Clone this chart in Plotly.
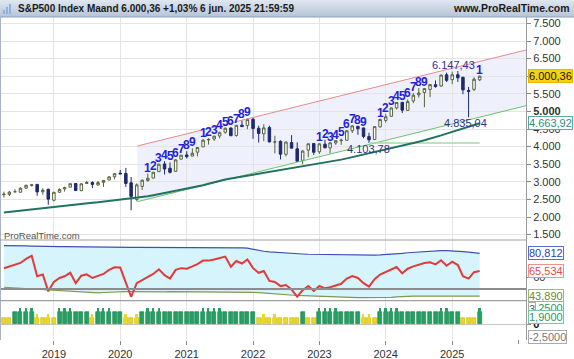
import plotly.graph_objects as go
import pandas as pd

W, H = 574, 359

# ---------------- data ----------------
months = pd.date_range('2018-04-01', '2025-06-01', freq='MS')

opens = [2633, 2643, 2718, 2704, 2821, 2897, 2926, 2717, 2790,
         2476, 2702, 2798, 2848, 2952, 2751, 2952, 2980, 2910, 2984, 3050, 3144,
         3245, 3236, 2974, 2499, 2869, 3038, 3106, 3289, 3507, 3385, 3296, 3645,
         3764, 3731, 3842, 3992, 4191, 4216, 4300, 4407, 4528, 4317, 4610, 4602,
         4778, 4520, 4364, 4540, 4131, 4149, 3781, 4113, 3937, 3610, 3901, 4087,
         3853, 4070, 3963, 4102, 4166, 4181, 4450, 4578, 4530, 4284, 4202, 4559,
         4745, 4861, 5098, 5258, 5029, 5298, 5471, 5538, 5624, 5758, 5723, 6040,
         5903, 6041, 5969, 5597, 5625, 5897]
highs = [2718, 2742, 2791, 2848, 2916, 2941, 2940, 2816, 2800,
         2709, 2813, 2860, 2949, 2955, 2964, 3028, 3014, 3022, 3050, 3154, 3248,
         3338, 3394, 3136, 2955, 3068, 3233, 3280, 3515, 3588, 3550, 3646, 3760,
         3870, 3950, 3983, 4218, 4238, 4302, 4429, 4537, 4546, 4608, 4743, 4808,
         4819, 4595, 4637, 4593, 4307, 4177, 4140, 4325, 4120, 3906, 4080, 4101,
         4095, 4195, 4110, 4170, 4231, 4458, 4607, 4585, 4541, 4393, 4587, 4794,
         4932, 5111, 5265, 5264, 5342, 5524, 5670, 5651, 5768, 5878, 6044, 6100,
         6128, 6147.43, 5987, 5696, 5969, 6017]
lows = [2553, 2595, 2698, 2698, 2796, 2864, 2604, 2631, 2347,
        2444, 2681, 2722, 2848, 2751, 2728, 2952, 2822, 2892, 2855, 3050, 3070,
        3214, 2855, 2192, 2447, 2767, 2999, 3101, 3285, 3209, 3234, 3280, 3633,
        3662, 3725, 3723, 3992, 4057, 4164, 4234, 4367, 4306, 4279, 4560, 4495,
        4222, 4115, 4157, 4125, 3810, 3637, 3721, 3955, 3584, 3492, 3699, 3764,
        3794, 3943, 3809, 4048, 4048, 4167, 4385, 4336, 4238, 4103.78, 4197, 4547,
        4683, 4853, 5057, 4954, 5012, 5234, 5391, 5120, 5402, 5674, 5696, 5833,
        5773, 5838, 5489, 4835.04, 5578, 5862]
closes = [2648, 2705, 2718, 2816, 2902, 2914, 2712, 2760, 2507,
          2704, 2784, 2834, 2946, 2752, 2942, 2980, 2926, 2977, 3038, 3141, 3231,
          3226, 2954, 2585, 2912, 3044, 3100, 3271, 3500, 3363, 3270, 3622, 3756,
          3714, 3811, 3973, 4181, 4204, 4298, 4395, 4523, 4308, 4605, 4567, 4766,
          4516, 4374, 4530, 4132, 4132, 3785, 4130, 3955, 3586, 3872, 4080, 3840,
          4077, 3970, 4109, 4169, 4180, 4450, 4589, 4508, 4288, 4194, 4568, 4770,
          4846, 5096, 5254, 5036, 5278, 5460, 5522, 5648, 5762, 5705, 6032, 5882,
          6041, 5955, 5612, 5569, 5912, 6000.36]

moving_avg = [2130, 2148, 2166, 2184, 2202, 2220, 2238, 2257, 2276,
              2292, 2308, 2324, 2340, 2356, 2372, 2388, 2404, 2418,
              2435, 2452, 2469, 2486, 2503, 2520,
              2545, 2570, 2590,
              2620, 2650, 2680, 2710, 2740, 2770, 2800, 2830, 2855,
              2900, 2945, 2990, 3030, 3065,
              3092, 3118, 3144, 3170, 3196, 3222, 3248, 3274, 3300, 3326, 3352, 3378,
              3404, 3430, 3456, 3482, 3508, 3534, 3560,
              3595, 3630, 3665, 3700, 3735, 3770, 3805, 3840, 3875, 3910, 3945, 3980,
              4020, 4060, 4100, 4140, 4180, 4222,
              4270, 4320, 4370, 4420, 4470, 4520, 4570, 4615, 4663.92]

channel_x = ['2020-04-04', '2026-02-11']
channel_upper = [4017, 6744]
channel_lower = [2435, 5162]
support_x = ['2023-10-01', '2025-06-01']
support_level = 4103.78

price_ticks = [1500, 2000, 2500, 3000, 3500, 4000, 4500, 5000, 5500, 6000, 6500, 7000, 7500]
price_tick_text = ['1.500', '2.000', '2.500', '3.000', '3.500', '4.000', '4.500',
                   '<b>5.000</b>', '5.500', '6.000', '6.500', '7.000', '7.500']
year_ticks = ['2019-01-01', '2020-01-01', '2021-01-01', '2022-01-01',
              '2023-01-01', '2024-01-01', '2025-01-01']
year_text = ['2019', '2020', '2021', '2022', '2023', '2024', '2025']

# TD-style count labels (index into months, text)
td_idx = [26, 27, 28, 29, 30, 31, 32, 33, 34,
          36, 37, 38, 39, 40, 41, 42, 43, 44,
          57, 58, 59, 60, 61, 62, 63, 64, 65,
          68, 69, 70, 71, 72, 73, 74, 75, 76,
          86]
td_text = ['1', '2', '3', '4', '5', '6', '7', '8', '9'] * 4 + ['1']

rsi = [67.9, 69.5, 70.5, 72.5, 76.0, 78.7, 61.0, 62.5, 48.0, 56.0,
       59.5, 61.0, 64.0, 55.0, 61.5, 62.7, 59.5, 61.0, 63.0, 66.5,
       68.7, 68.5, 56.0, 43.3, 55.0, 57.5, 60.0, 63.0, 67.0, 62.0,
       59.0, 66.5, 68.0, 67.5, 69.5, 71.5, 74.5, 74.5, 75.5, 77.0,
       78.0, 69.2, 74.2, 72.0, 75.6, 68.0, 64.0, 65.5, 57.0, 56.0,
       52.5, 53.4, 49.5, 43.3, 49.0, 52.6, 48.3, 52.6, 50.6, 51.5,
       53.2, 54.5, 59.0, 61.2, 59.5, 55.0, 52.0, 58.5, 62.5, 64.5,
       67.0, 69.0, 63.5, 67.5, 69.5, 71.0, 72.5, 73.0, 71.3, 74.8,
       70.1, 73.6, 70.7, 61.0, 59.0, 64.5, 65.534]
rsi_upper = [87.4, 87.5, 87.4, 87.3, 87.2, 87.0,
             86.8, 86.7, 86.6, 86.5, 86.5, 86.5, 86.4, 86.4, 86.5, 86.5, 86.4, 86.3,
             86.3, 86.2, 86.2, 86.1, 86.1, 86.0, 86.0, 86.0, 85.9, 85.9, 85.9, 85.9,
             85.9, 85.9, 86.0, 86.0, 86.0, 86.0, 85.9, 85.9, 85.8, 85.8, 85.7, 85.6, 85.6, 85.5,
             85.2, 84.2, 83.4, 82.6, 82.0, 81.6, 81.2,
             81.0, 80.8, 80.5, 80.2, 80.0, 79.9,
             79.9, 79.8, 79.8, 79.7, 79.6, 79.5, 79.4, 79.4, 79.3, 79.3, 79.3, 79.4, 79.6, 79.9,
             80.3, 80.8, 81.3, 81.7, 82.1, 82.4, 82.7, 82.9, 83.1, 83.2, 83.1,
             82.8, 82.3, 81.8, 81.3, 80.812]
rsi_lower = [51.5, 51.2, 50.9, 50.6, 50.3, 50.0, 49.7, 49.4, 49.1,
             48.6, 48.3, 48.0, 47.8, 47.5, 47.2, 46.8, 46.4, 46.6, 47.0, 47.3, 47.5,
             47.6, 47.7, 47.7, 47.6, 47.6, 47.5, 47.5, 47.6, 47.6, 47.7, 47.7, 47.7,
             47.6, 47.6, 47.5, 47.5, 47.5, 47.6, 47.6, 47.6, 47.5, 47.5, 47.4, 47.3, 47.1,
             46.8, 46.4, 46.0, 45.6, 45.3, 45.0, 44.7, 44.4,
             44.2, 44.0, 43.8, 43.5, 43.3, 43.0, 42.8, 42.6,
             42.5, 42.5, 42.5, 42.5, 42.5, 42.5, 42.5, 42.6, 42.8, 43.2, 43.6,
             43.89, 43.89, 43.89, 43.89, 43.89, 43.89, 43.89, 43.89, 43.89, 43.89,
             43.89, 43.89, 43.89, 43.89]
rsi_mid = 50

# histogram states: G = strong (green), Y = weak (yellow); '*' marks an extra top notch
hist_state = ['Y', 'Y', 'G', 'G*', 'G*', 'G*', 'Y*', 'Y', 'Y*', 'Y',
              'G*', 'G*', 'G*', 'G', 'G', 'G', 'Y*', 'G*', 'G*', 'G*',
              'G', 'G', 'Y*', 'Y', 'Y*', 'G', 'G*', 'G*', 'G*', 'G',
              'G', 'G', 'G', 'G', 'G', 'G', 'G*', 'G*', 'G*', 'G*',
              'G', 'G', 'G', 'G', 'G', 'G', 'Y', 'Y*', 'Y', 'Y*',
              'Y', 'Y', 'Y', 'Y', 'G', 'Y', 'Y', 'G*', 'G*', 'G*',
              'G*', 'G', 'G', 'G', 'G', 'Y*', 'Y*', 'Y', 'G*', 'G*',
              'G*', 'G*', 'G', 'G', 'G', 'G', 'G', 'G', 'G', 'G*',
              'G*', 'G', 'G', 'Y', 'Y', 'Y', 'G*']
hist_level = {'G': 2.5, 'Y': 1.3}
hist_notch = {'G': 3.15, 'Y': 1.95}

# ---------------- helpers ----------------
def fmt_nl(v, dec=2):
    s = f"{v:,.{dec}f}"
    return s.replace(',', 'X').replace('.', ',').replace('X', '.')

def ypap(p):
    return 1 - p / H

def xpap(p):
    return p / W

FONT = 'Liberation Sans, Arial, sans-serif'
X_RIGHT = 526

fig = go.Figure()

fig.add_trace(go.Candlestick(
    x=months, open=opens, high=highs, low=lows, close=closes,
    increasing=dict(line=dict(color='#56643c', width=1), fillcolor='#ffffff'),
    decreasing=dict(line=dict(color='#1d2a6e', width=1), fillcolor='#1d2a6e'),
    whiskerwidth=0, hoverinfo='skip', showlegend=False, xaxis='x', yaxis='y'))
fig.add_trace(go.Scatter(x=channel_x, y=channel_upper, mode='lines',
                         line=dict(color='#e58b8b', width=1), hoverinfo='skip',
                         showlegend=False, xaxis='x', yaxis='y'))
fig.add_trace(go.Scatter(x=channel_x, y=channel_lower, mode='lines',
                         line=dict(color='#6cc46c', width=1), hoverinfo='skip',
                         showlegend=False, xaxis='x', yaxis='y'))
fig.add_trace(go.Scatter(x=support_x, y=[support_level] * 2, mode='lines',
                         line=dict(color='#a6dba6', width=1.5), hoverinfo='skip',
                         showlegend=False, xaxis='x', yaxis='y'))
fig.add_trace(go.Scatter(x=months, y=moving_avg, mode='lines',
                         line=dict(color='#1f7360', width=2), hoverinfo='skip',
                         showlegend=False, xaxis='x', yaxis='y'))

# RSI panel
fig.add_trace(go.Scatter(x=months, y=rsi_lower, mode='lines',
                         line=dict(color='#7d9a4e', width=1.2), hoverinfo='skip',
                         showlegend=False, xaxis='x2', yaxis='y2'))
fig.add_trace(go.Scatter(x=months, y=rsi_upper, mode='lines', fill='tonexty',
                         fillcolor='#d6f4fb',
                         line=dict(color='#3b52b4', width=1.2), hoverinfo='skip',
                         showlegend=False, xaxis='x2', yaxis='y2'))
fig.add_trace(go.Scatter(x=months, y=rsi, mode='lines',
                         line=dict(color='#e23a3a', width=2), hoverinfo='skip',
                         showlegend=False, xaxis='x2', yaxis='y2'))

# histogram panel
DAY = 86400000
main_vals = [hist_level[s[0]] for s in hist_state]
main_cols = ['#24a064' if s[0] == 'G' else '#e9d824' for s in hist_state]
main_line = ['#127a45' if s[0] == 'G' else '#c9b400' for s in hist_state]
fig.add_trace(go.Bar(x=months, y=main_vals, width=22 * DAY,
                     marker=dict(color=main_cols, line=dict(color=main_line, width=0.6)),
                     hoverinfo='skip', showlegend=False, xaxis='x3', yaxis='y3'))
notch_x = [m for m, s in zip(months, hist_state) if s.endswith('*')]
notch_y = [hist_notch[s[0]] for s in hist_state if s.endswith('*')]
notch_c = ['#24a064' if s[0] == 'G' else '#e9d824' for s in hist_state if s.endswith('*')]
fig.add_trace(go.Bar(x=notch_x, y=notch_y, width=10 * DAY,
                     marker=dict(color=notch_c, line=dict(width=0)),
                     hoverinfo='skip', showlegend=False, xaxis='x3', yaxis='y3'))

# ---------------- layout ----------------
xdom = [xpap(1), xpap(X_RIGHT)]
xrange = ['2018-03-16', '2026-02-11']
xcommon = dict(type='date', range=xrange, domain=xdom, showgrid=True,
               gridcolor='#e4e4e4', gridwidth=1, tickvals=year_ticks,
               zeroline=False, showline=False, fixedrange=True)

axis_font = dict(family=FONT, size=11, color='#333333')

layout = dict(
    width=W, height=H, margin=dict(l=0, r=0, t=0, b=0),
    paper_bgcolor='white', plot_bgcolor='white', showlegend=False,
    barmode='overlay', bargap=0,
    xaxis=dict(**xcommon, anchor='y', showticklabels=False,
               rangeslider=dict(visible=False)),
    xaxis2=dict(**xcommon, anchor='y2', showticklabels=False, matches='x'),
    xaxis3=dict(**xcommon, anchor='y3', showticklabels=True, matches='x',
                ticktext=year_text, ticks='outside', ticklen=4, tickcolor='#888888',
                tickfont=axis_font),
    yaxis=dict(domain=[ypap(240), ypap(17)], range=[1346.6, 7681.8], side='right',
               anchor='x', tickvals=price_ticks, ticktext=price_tick_text,
               ticks='outside', ticklen=4, tickcolor='#888888', tickfont=axis_font,
               showgrid=True, gridcolor='#e4e4e4', zeroline=False,
               showline=True, linecolor='#9a9a9a', linewidth=1, fixedrange=True),
    yaxis2=dict(domain=[ypap(300.7), ypap(240)], range=[39.9, 92.3], side='right',
                anchor='x2', tickvals=[60], ticktext=['60'], ticks='outside', ticklen=4,
                tickcolor='#888888', tickfont=axis_font, showgrid=False,
                zeroline=False, showline=True, linecolor='#9a9a9a', fixedrange=True),
    yaxis3=dict(domain=[ypap(340), ypap(301)], range=[-3.08, 4.57], side='right',
                anchor='x3', tickvals=[0], ticktext=['<b>0</b>'], ticks='outside',
                ticklen=4, tickcolor='#888888',
                tickfont=dict(family=FONT, size=11, color='#111111'),
                showgrid=False, zeroline=True, zerolinecolor='#c8c8c8',
                zerolinewidth=1, showline=True, linecolor='#9a9a9a', fixedrange=True),
)
fig.update_layout(**layout)

shapes = []
# channel fill (below traces, drawn from the channel data)
cx = channel_x + channel_x[::-1]
cy = channel_upper + channel_lower[::-1]
path = 'M ' + ' L '.join('%s,%s' % (a, b) for a, b in zip(cx, cy)) + ' Z'
shapes.append(dict(type='path', xref='x', yref='y', path=path, fillcolor='#eef0fb',
                   line=dict(width=0), layer='below'))
# title bar gradient
top_c = (222, 230, 239)
bot_c = (182, 197, 215)
for k in range(17):
    t = k / 16
    c = tuple(int(top_c[j] + (bot_c[j] - top_c[j]) * t) for j in range(3))
    shapes.append(dict(type='rect', xref='paper', yref='paper', x0=0, x1=1,
                       y0=ypap(k + 1), y1=ypap(k), fillcolor='rgb(%d,%d,%d)' % c,
                       line=dict(width=0), layer='above'))
shapes.append(dict(type='line', xref='paper', yref='paper', x0=0, x1=1,
                   y0=ypap(17), y1=ypap(17), line=dict(color='#8ea2ba', width=1)))
# small icon
for bx, bh in [(3, 4), (6, 7), (9, 10)]:
    shapes.append(dict(type='rect', xref='paper', yref='paper',
                       x0=xpap(bx), x1=xpap(bx + 2), y0=ypap(14), y1=ypap(14 - bh),
                       fillcolor='#8db3e2', line=dict(width=0)))
# left border
shapes.append(dict(type='line', xref='paper', yref='paper', x0=xpap(0.5), x1=xpap(0.5),
                   y0=ypap(340), y1=ypap(17), line=dict(color='#a8b4c2', width=1)))
# panel separators
for yy in [240, 300.7]:
    shapes.append(dict(type='line', xref='paper', yref='paper', x0=0, x1=xpap(X_RIGHT),
                       y0=ypap(yy), y1=ypap(yy), line=dict(color='#a0a0a0', width=1.2)))
# RSI mid line
shapes.append(dict(type='line', xref='paper', yref='y2', x0=xpap(1), x1=xpap(X_RIGHT),
                   y0=rsi_mid, y1=rsi_mid, line=dict(color='#8c8c8c', width=2)))
# 2026 tick
shapes.append(dict(type='line', xref='x3', yref='paper', x0='2026-01-01', x1='2026-01-01',
                   y0=ypap(344), y1=ypap(340), line=dict(color='#888888', width=1)))
fig.update_layout(shapes=shapes)

ann = []
ann.append(dict(xref='paper', yref='paper', x=xpap(16), y=ypap(8.5), xanchor='left',
                yanchor='middle', showarrow=False,
                text='<b>S&P500 Index Maand 6.000,36 +1,03% 6 jun. 2025 21:59:59</b>',
                font=dict(family=FONT, size=10, color='#1a1a1a')))
ann.append(dict(xref='paper', yref='paper', x=xpap(572), y=ypap(8.5), xanchor='right',
                yanchor='middle', showarrow=False, text='<b>www.ProRealTime.com</b>',
                font=dict(family=FONT, size=10.5, color='#1a1a1a')))
ann.append(dict(xref='paper', yref='paper', x=xpap(2), y=ypap(236), xanchor='left',
                yanchor='middle', showarrow=False, text='ProRealTime.com',
                font=dict(family=FONT, size=9.5, color='#555555')))

# TD count digits
for i, t in zip(td_idx, td_text):
    ann.append(dict(xref='x', yref='y', x=months[i], y=highs[i], yanchor='middle',
                    yshift=6, showarrow=False, text='<b>%s</b>' % t,
                    font=dict(family=FONT, size=12, color='#2323d6')))
# price extremes
i_hi, i_lo, i_sup = 82, 84, 66
ann.append(dict(xref='x', yref='y', x=months[i_hi], y=highs[i_hi], yanchor='middle',
                yshift=6, xshift=-4, showarrow=False, text=fmt_nl(highs[i_hi]),
                font=dict(family=FONT, size=11, color='#2e3184')))
ann.append(dict(xref='x', yref='y', x=months[i_lo], y=lows[i_lo], yanchor='middle',
                yshift=-6, xshift=-3, showarrow=False, text=fmt_nl(lows[i_lo]),
                font=dict(family=FONT, size=11, color='#2e3184')))
ann.append(dict(xref='x', yref='y', x=months[i_sup], y=lows[i_sup], yanchor='middle',
                yshift=-6, showarrow=False, text=fmt_nl(lows[i_sup]),
                font=dict(family=FONT, size=11, color='#2e3184')))

# right-side value boxes
def box(yref, y, text, fc, bg, bc, yshift=0):
    return dict(xref='paper', yref=yref, x=xpap(527.5), y=y, xanchor='left',
                yanchor='middle', yshift=yshift, showarrow=False, text=text,
                font=dict(family=FONT, size=11, color=fc), bgcolor=bg,
                bordercolor=bc, borderwidth=1, borderpad=0)

ann.append(box('y', closes[-1], fmt_nl(closes[-1]), '#111111', '#f6d312', '#e0b800'))
ann.append(box('y', moving_avg[-1], fmt_nl(moving_avg[-1]), '#2a8c8c', '#ffffff', '#5aa9a9'))
ann.append(box('y2', rsi_upper[-1], fmt_nl(rsi_upper[-1], 3), '#2b3fb0', '#ffffff', '#5b6cc8'))
ann.append(box('y2', rsi[-1], fmt_nl(rsi[-1], 3), '#e24a4a', '#ffffff', '#f09090'))
ann.append(box('y2', rsi_lower[-1], fmt_nl(rsi_lower[-1], 3), '#6d8a35', '#ffffff', '#a0b870'))
ann.append(box('y3', 3.25, '3,2500', '#2a9a66', '#ffffff', '#7cc4a0'))
ann.append(box('y3', 3.0, '3', '#555555', '#ffffff', '#aaaaaa'))
ann.append(box('y3', 1.9, '1,9000', '#2a9a66', '#ffffff', '#7cc4a0', yshift=-2))
ann.append(box('y3', -2.5, '-2,5000', '#777777', '#ffffff', '#aaaaaa'))
fig.update_layout(annotations=ann)

fig.write_html('out.html', config={'displayModeBar': False},
               post_script="document.body.style.margin='0px';")
